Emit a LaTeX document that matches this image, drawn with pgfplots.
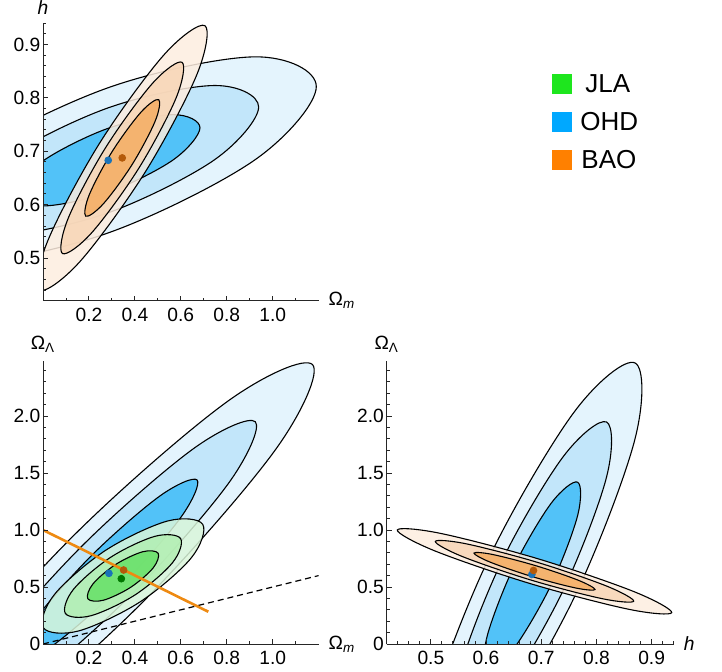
\documentclass[border=0pt]{standalone}
\usepackage{pgfplots}
\pgfplotsset{compat=1.18}
\usepackage{fontspec}
\setmainfont{Liberation Sans}

\definecolor{ohdA}{HTML}{E4F4FD}
\definecolor{ohdB}{HTML}{C2E6FA}
\definecolor{ohdC}{HTML}{52C2F8}
\definecolor{baoA}{HTML}{FDEDDF}
\definecolor{baoB}{HTML}{F8D6B6}
\definecolor{baoC}{HTML}{F5AD62}
\definecolor{jlaA}{HTML}{DAF6DA}
\definecolor{jlaB}{HTML}{B2EFB2}
\definecolor{jlaC}{HTML}{66E066}
\definecolor{jlaL}{HTML}{1EE61E}
\definecolor{ohdL}{HTML}{00A8FF}
\definecolor{baoL}{HTML}{FF8000}
\definecolor{baoLine}{HTML}{EE8A12}
\definecolor{dotB}{HTML}{1973B9}
\definecolor{dotO}{HTML}{B45A0A}
\definecolor{dotG}{HTML}{007800}

\pgfplotsset{
  tri/.style={
    scale only axis, axis lines=left, enlargelimits=false, axis on top,
    axis line style={-, draw=black!85, line width=0.5pt},
    tick align=inside, major tick length=2.6pt, minor tick length=1.6pt,
    tick style={draw=black!85, line width=0.45pt},
    tick label style={font=\fontsize{9.6}{11}\selectfont},
    yticklabel style={inner sep=1.2pt},
    every axis x label/.style={at={(axis description cs:1,0)}, anchor=west, xshift=1.5pt, font=\fontsize{9.6}{11}\selectfont},
    every axis y label/.style={at={(axis description cs:0,1)}, anchor=south, yshift=1pt, font=\fontsize{9.6}{11}\selectfont},
  },
  c1/.style={draw=black, line width=0.55pt, smooth cycle, tension=0.5625, fill=#1},
  c2/.style={draw=black, line width=0.55pt, smooth cycle, tension=0.5625, fill=#1, fill opacity=0.85},
  dot/.style={only marks, mark=*, mark size=1.7pt, color=#1},
}

\begin{document}
\begin{tikzpicture}
\path[use as bounding box] (0,0) rectangle (361pt,335.5pt);

% Omega_m vs h
\begin{axis}[tri, at={(21.5pt,185.15pt)}, anchor=south west,
  width=137.8pt, height=138.8pt,
  xmin=0, xmax=1.2, ymin=0.42, ymax=0.94,
  xtick={0.2,0.4,0.6,0.8,1.0}, xticklabels={0.2,0.4,0.6,0.8,1.0},
  minor xtick={0.1,0.3,0.5,0.7,0.9,1.1},
  ytick={0.5,0.6,0.7,0.8,0.9}, yticklabels={0.5,0.6,0.7,0.8,0.9},
  minor ytick={0.42,0.44,0.46,0.48,0.52,0.54,0.56,0.58,0.62,0.64,0.66,0.68,0.72,0.74,0.76,0.78,0.82,0.84,0.86,0.88,0.92,0.94},
  xlabel={Ω\textsubscript{\textit{m}}}, ylabel={\textit{h}}]
\addplot[c1=ohdA] coordinates {(1.190,0.821) (0.9246,0.8768) (0.284,0.819) (-0.3566,0.6816) (-0.622,0.545) (-0.3566,0.4892) (0.284,0.547) (0.9246,0.6844)};
\addplot[c1=ohdB] coordinates {(0.939,0.7828) (0.7472,0.8231) (0.284,0.7813) (-0.1792,0.6819) (-0.371,0.5832) (-0.1792,0.5429) (0.284,0.5847) (0.7472,0.6841)};
\addplot[c1=ohdC] coordinates {(0.6835,0.7439) (0.5665,0.7685) (0.284,0.743) (0.0015,0.6823) (-0.1155,0.6221) (0.0015,0.5975) (0.284,0.623) (0.5665,0.6837)};
\addplot[c2=baoA] coordinates {(0.705,0.9352) (0.6701,0.8437) (0.4447,0.6607) (0.1609,0.4933) (-0.015,0.4398) (0.0199,0.5313) (0.2453,0.7143) (0.5291,0.8817)};
\addplot[c2=baoB] coordinates {(0.6053,0.8666) (0.5801,0.8004) (0.4171,0.6681) (0.2119,0.5472) (0.0847,0.5084) (0.1099,0.5746) (0.2729,0.7069) (0.4781,0.8278)};
\addplot[c2=baoC] coordinates {(0.5038,0.7967) (0.4884,0.7564) (0.389,0.6757) (0.2638,0.602) (0.1862,0.5783) (0.2016,0.6186) (0.301,0.6993) (0.4262,0.773)};
\addplot[dot=dotB] coordinates {(0.284,0.683)};
\addplot[dot=dotO] coordinates {(0.345,0.6875)};
\end{axis}

% Omega_m vs Omega_Lambda
\begin{axis}[tri, at={(21.5pt,13.5pt)}, anchor=south west,
  width=137.8pt, height=141.36pt,
  xmin=0, xmax=1.2, ymin=0, ymax=2.48,
  xtick={0.2,0.4,0.6,0.8,1.0}, xticklabels={0.2,0.4,0.6,0.8,1.0},
  minor xtick={0.1,0.3,0.5,0.7,0.9,1.1},
  ytick={0,0.5,1,1.5,2}, yticklabels={0,0.5,1.0,1.5,2.0},
  minor ytick={0.1,0.2,0.3,0.4,0.6,0.7,0.8,0.9,1.1,1.2,1.3,1.4,1.6,1.7,1.8,1.9,2.1,2.2,2.3,2.4},
  xlabel={Ω\textsubscript{\textit{m}}}, ylabel={Ω\textsubscript{Λ}}]
\addplot[c1=ohdA] coordinates {(1.1733,2.4514) (1.0144,1.7107) (0.4219,0.343) (-0.257,-0.8505) (-0.6247,-1.1706) (-0.4658,-0.4299) (0.1267,0.9378) (0.8056,2.1313)};
\addplot[c1=ohdB] coordinates {(0.9243,1.9498) (0.8094,1.4143) (0.381,0.4254) (-0.1098,-0.4375) (-0.3757,-0.669) (-0.2608,-0.1335) (0.1676,0.8554) (0.6584,1.7183)};
\addplot[c1=ohdC] coordinates {(0.6708,1.4391) (0.6007,1.1124) (0.3394,0.5092) (0.0399,-0.0172) (-0.1222,-0.1583) (-0.0521,0.1684) (0.2092,0.7716) (0.5087,1.298)};
\addplot[c2=jlaA] coordinates {(0.6953,1.05) (0.6457,0.7559) (0.4218,0.3684) (0.1549,0.1145) (0.0013,0.143) (0.0509,0.4371) (0.2748,0.8246) (0.5417,1.0785)};
\addplot[c2=jlaB] coordinates {(0.5992,0.9244) (0.5633,0.7118) (0.4014,0.4316) (0.2085,0.248) (0.0974,0.2686) (0.1333,0.4812) (0.2952,0.7614) (0.4881,0.945)};
\addplot[c2=jlaC] coordinates {(0.5013,0.7965) (0.4794,0.6668) (0.3807,0.4959) (0.263,0.384) (0.1953,0.3965) (0.2172,0.5262) (0.3159,0.6971) (0.4336,0.809)};
\addplot[black, line width=0.6pt, dash pattern=on 3pt off 2pt] coordinates {(0,0) (1.2,0.6)};
\addplot[baoLine, line width=1.3pt] coordinates {(0,1.0) (0.72,0.283)};
\addplot[dot=dotB] coordinates {(0.287,0.62)};
\addplot[dot=dotO] coordinates {(0.351,0.649)};
\addplot[dot=dotG] coordinates {(0.341,0.573)};
\end{axis}

% h vs Omega_Lambda
\begin{axis}[tri, at={(193.35pt,13.5pt)}, anchor=south west,
  width=143.5pt, height=141.36pt,
  xmin=0.42, xmax=0.94, ymin=0, ymax=2.48,
  xtick={0.5,0.6,0.7,0.8,0.9}, xticklabels={0.5,0.6,0.7,0.8,0.9},
  minor xtick={0.42,0.44,0.46,0.48,0.52,0.54,0.56,0.58,0.62,0.64,0.66,0.68,0.72,0.74,0.76,0.78,0.82,0.84,0.86,0.88,0.92,0.94},
  ytick={0,0.5,1,1.5,2}, yticklabels={0,0.5,1.0,1.5,2.0},
  minor ytick={0.1,0.2,0.3,0.4,0.6,0.7,0.8,0.9,1.1,1.2,1.3,1.4,1.6,1.7,1.8,1.9,2.1,2.2,2.3,2.4},
  xlabel={\textit{h}}, ylabel={Ω\textsubscript{Λ}}]
\addplot[c1=ohdA] coordinates {(0.8698,2.4658) (0.8695,1.7914) (0.7605,0.4159) (0.6065,-0.8548) (0.4978,-1.2764) (0.4981,-0.602) (0.6071,0.7735) (0.7611,2.0442)};
\addplot[c1=ohdB] coordinates {(0.8183,1.9475) (0.8181,1.4599) (0.7393,0.4654) (0.6279,-0.4533) (0.5493,-0.7581) (0.5495,-0.2705) (0.6283,0.724) (0.7397,1.6427)};
\addplot[c1=ohdC] coordinates {(0.7658,1.4199) (0.7657,1.1224) (0.7176,0.5158) (0.6497,-0.0446) (0.6018,-0.2305) (0.6019,0.067) (0.65,0.6736) (0.7179,1.234)};
\addplot[c2=baoA] coordinates {(0.9364,0.2754) (0.8684,0.4587) (0.6946,0.7469) (0.5168,0.9711) (0.4392,1.0) (0.5072,0.8167) (0.681,0.5285) (0.8588,0.3043)};
\addplot[c2=baoB] coordinates {(0.8675,0.3758) (0.8184,0.5083) (0.6927,0.7167) (0.5642,0.8787) (0.5081,0.8996) (0.5572,0.7671) (0.6829,0.5587) (0.8114,0.3967)};
\addplot[c2=baoC] coordinates {(0.7974,0.4779) (0.7674,0.5588) (0.6908,0.6859) (0.6124,0.7848) (0.5782,0.7975) (0.6082,0.7166) (0.6848,0.5895) (0.7632,0.4906)};
\addplot[dot=dotB] coordinates {(0.683,0.61)};
\addplot[dot=dotO] coordinates {(0.686,0.645)};
\end{axis}

% legend
\fill[jlaL] (276pt,288.5pt) rectangle (286pt,298.5pt);
\fill[ohdL] (276pt,269.5pt) rectangle (286pt,279.5pt);
\fill[baoL] (276pt,250.5pt) rectangle (286pt,260.5pt);
\node[anchor=west, inner sep=0pt, font=\fontsize{13}{15}\selectfont] at (292.5pt,293.5pt) {JLA};
\node[anchor=west, inner sep=0pt, font=\fontsize{13}{15}\selectfont] at (290pt,274.5pt) {OHD};
\node[anchor=west, inner sep=0pt, font=\fontsize{13}{15}\selectfont] at (290.5pt,255.5pt) {BAO};
\end{tikzpicture}
\end{document}
